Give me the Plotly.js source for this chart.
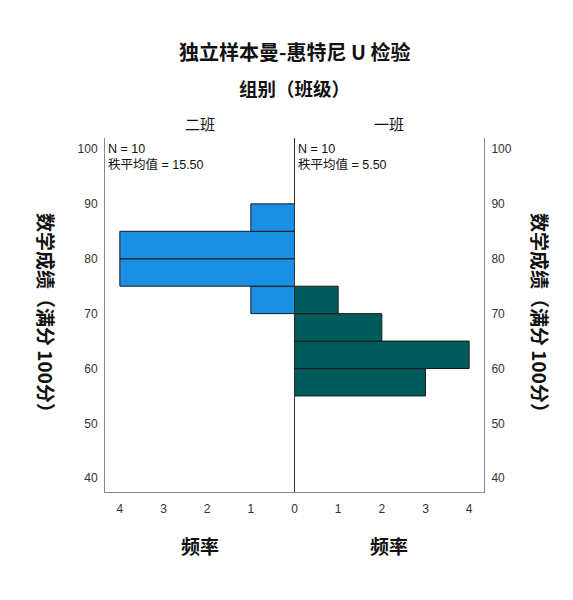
<!DOCTYPE html>
<html><head><meta charset="utf-8">
<script src="https://cdn.plot.ly/plotly-3.0.1.min.js"></script>
<style>html,body{margin:0;padding:0;background:#fff}</style>
</head><body>
<div id="chart" style="width:573px;height:600px"></div>
<script>
const binCenters2 = [72.5, 77.5, 82.5, 87.5];      // 二班
const counts2 = [1, 4, 4, 1];
const binCenters1 = [57.5, 62.5, 67.5, 72.5];      // 一班
const counts1 = [3, 4, 2, 1];
const binWidth = 5;
const groupNames = ['二班', '一班'];
const nLabels = ['N = 10<br>秩平均值 = 15.50', 'N = 10<br>秩平均值 = 5.50'];
const xTickVals = [0, 1, 2, 3, 4];
const yTickVals = [40, 50, 60, 70, 80, 90, 100];
const titleText = '独立样本曼-惠特尼 U 检验';
const subTitle = '组别（班级）';
const xTitle = '频率';
const yTitle = '数学成绩（满分 100分）';

const F = 'Liberation Sans, Arial, Noto Sans CJK SC, sans-serif';
const CJK = 'Noto Sans CJK SC, Liberation Sans, sans-serif';

const traces = [
  {type:'bar', orientation:'h', y:binCenters2, x:counts2, width:binWidth,
   xaxis:'x', yaxis:'y', marker:{color:'#1a8fe3', line:{color:'#1a1a1a', width:1}}, hoverinfo:'none'},
  {type:'bar', orientation:'h', y:binCenters1, x:counts1, width:binWidth,
   xaxis:'x2', yaxis:'y2', marker:{color:'#005b5a', line:{color:'#1a1a1a', width:1}}, hoverinfo:'none'}
];

const yRange = [37.5, 102];
const xMax = 4.34;
const axisCommon = {showgrid:false, ticks:'', tickfont:{family:F, size:12, color:'#333'}, showline:true, linecolor:'#888', linewidth:1, fixedrange:true};

const layout = {
  width:573, height:600,
  margin:{l:105, r:89, t:138, b:108},
  paper_bgcolor:'#fff', plot_bgcolor:'#fff',
  showlegend:false,
  bargap:0,
  xaxis: Object.assign({}, axisCommon, {domain:[0,0.5], range:[xMax,0], tickvals:xTickVals, zeroline:false, anchor:'y', ticklabelstandoff:6}),
  xaxis2: Object.assign({}, axisCommon, {domain:[0.5,1], range:[0,xMax], tickvals:xTickVals.slice(1), zeroline:true, zerolinecolor:'#333', zerolinewidth:1, anchor:'y2', ticklabelstandoff:6}),
  yaxis: Object.assign({}, axisCommon, {range:yRange, tickvals:yTickVals, anchor:'x', side:'left', zeroline:false, ticklabelstandoff:4}),
  yaxis2: Object.assign({}, axisCommon, {range:yRange, tickvals:yTickVals, anchor:'x2', side:'right', zeroline:false, ticklabelstandoff:4}),
  annotations:[
    {text:titleText, xref:'paper', yref:'paper', x:0.5, y:1, yshift:87, showarrow:false, font:{family:CJK, size:20, color:'#111', weight:'bold'}, xanchor:'center', yanchor:'middle'},
    {text:subTitle, xref:'paper', yref:'paper', x:0.5, y:1, yshift:50, showarrow:false, font:{family:CJK, size:18.5, color:'#111', weight:'bold'}, xanchor:'center', yanchor:'middle'},
    {text:groupNames[0], xref:'x domain', yref:'paper', x:0.5, y:1, yshift:15, showarrow:false, font:{family:CJK, size:15, color:'#111'}, xanchor:'center', yanchor:'middle'},
    {text:groupNames[1], xref:'x2 domain', yref:'paper', x:0.5, y:1, yshift:15, showarrow:false, font:{family:CJK, size:15, color:'#111'}, xanchor:'center', yanchor:'middle'},
    {text:nLabels[0], xref:'x domain', yref:'paper', x:0, y:1, xshift:1, yshift:-2, showarrow:false, align:'left', font:{family:F, size:12.5, color:'#111'}, xanchor:'left', yanchor:'top'},
    {text:nLabels[1], xref:'x2 domain', yref:'paper', x:0, y:1, xshift:1, yshift:-2, showarrow:false, align:'left', font:{family:F, size:12.5, color:'#111'}, xanchor:'left', yanchor:'top'},
    {text:xTitle, xref:'x domain', yref:'paper', x:0.5, y:0, yshift:-53, showarrow:false, font:{family:CJK, size:19, color:'#111', weight:'bold'}, xanchor:'center', yanchor:'middle'},
    {text:xTitle, xref:'x2 domain', yref:'paper', x:0.5, y:0, yshift:-53, showarrow:false, font:{family:CJK, size:19, color:'#111', weight:'bold'}, xanchor:'center', yanchor:'middle'},
    {text:yTitle, xref:'paper', yref:'paper', x:0, y:0.5, xshift:-58, yshift:-2, textangle:90, showarrow:false, font:{family:CJK, size:19, color:'#111', weight:'bold'}, xanchor:'center', yanchor:'middle'},
    {text:yTitle, xref:'paper', yref:'paper', x:1, y:0.5, xshift:57, yshift:-2, textangle:90, showarrow:false, font:{family:CJK, size:19, color:'#111', weight:'bold'}, xanchor:'center', yanchor:'middle'}
  ]
};

Plotly.newPlot('chart', traces, layout, {displayModeBar:false, staticPlot:true});
</script>
</body></html>
